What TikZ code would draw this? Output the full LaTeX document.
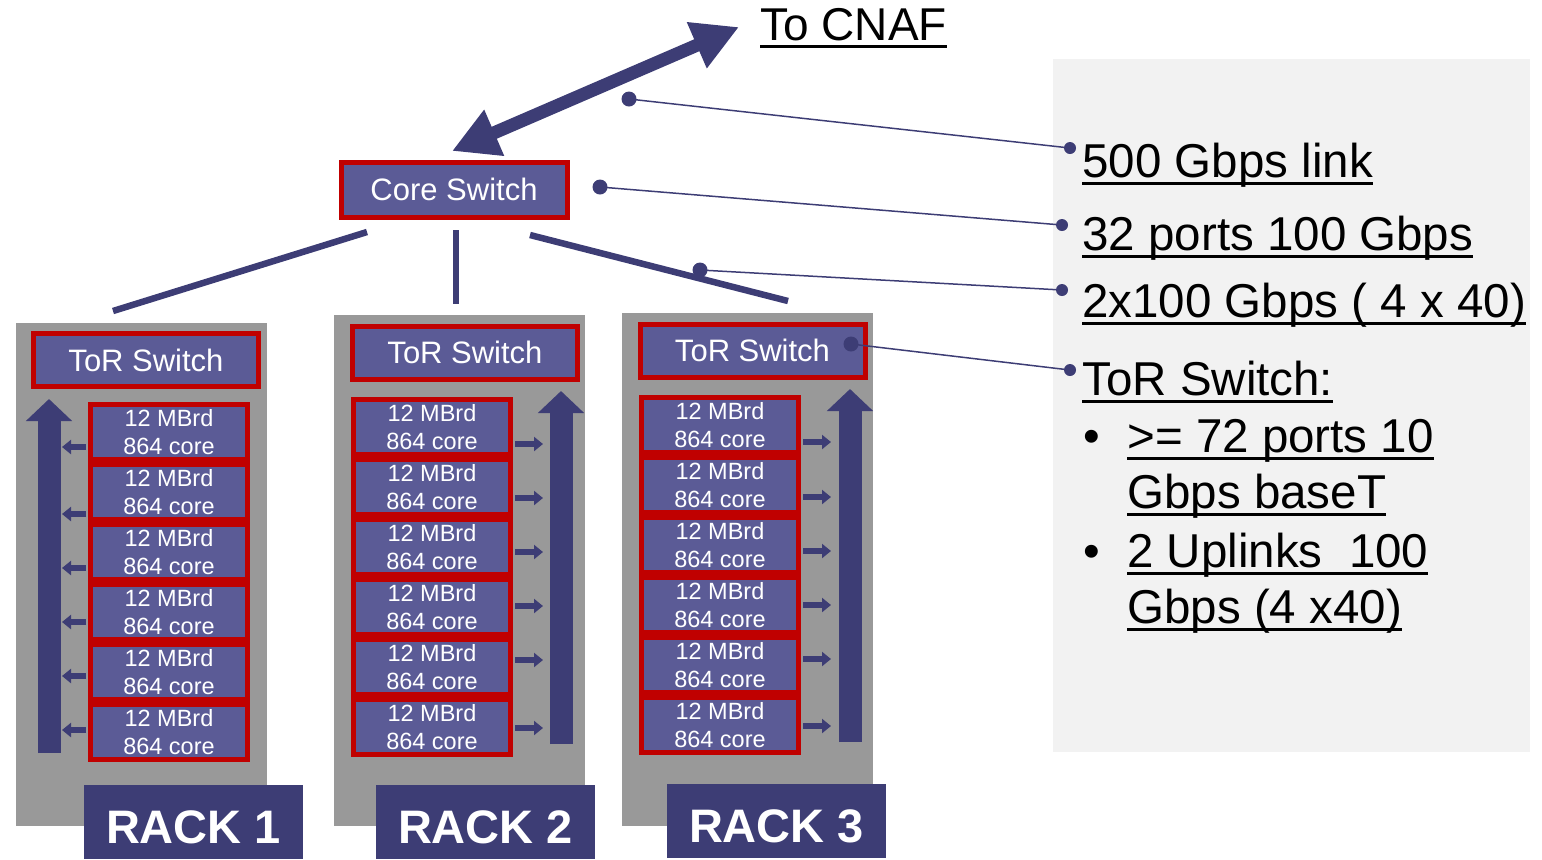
\documentclass[tikz,border=0pt]{standalone}
\usepackage{fontspec}
\setmainfont{Liberation Sans}
\usetikzlibrary{arrows.meta,calc}
\definecolor{boxblue}{RGB}{91,91,150}
\definecolor{darkblue}{RGB}{61,61,117}
\definecolor{boxred}{RGB}{192,0,0}
\definecolor{rackgray}{RGB}{153,153,153}
\definecolor{panelgray}{RGB}{242,242,242}
\newsavebox\ulbox
\newcommand\undl[1]{\sbox\ulbox{#1}\rlap{\rule[-3.75pt]{\wd\ulbox}{1.5pt}}\usebox\ulbox}
\begin{document}
\begin{tikzpicture}[x=0.5pt, y=-0.5pt,
  blade/.style={draw=boxred, line width=2.5pt, fill=boxblue, text=white, minimum width=78.5pt, minimum height=27.5pt, inner sep=0pt, align=center, font=\fontsize{11.75}{14.25}\selectfont},
  switch/.style={draw=boxred, line width=2.5pt, fill=boxblue, text=white, minimum width=112.5pt, minimum height=26.5pt, inner sep=0pt, font=\fontsize{15.5}{18}\selectfont},
  racklabel/.style={fill=darkblue, text=white, minimum width=109.5pt, minimum height=37pt, inner sep=0pt, text height=21.5pt, text depth=0pt, font=\fontsize{23.5}{28}\selectfont\bfseries},
  trunk/.style={darkblue, line width=3.25pt},
  uplink/.style={darkblue, line width=11.5pt, -{Triangle[length=11pt,width=22.5pt]}},
  port/.style={darkblue, line width=3pt, shorten <=1pt, -{Triangle[length=4.5pt,width=7pt]}},
  callout/.style={darkblue, line width=0.75pt},
  note/.style={anchor=base west, inner sep=0pt, font=\fontsize{23.75}{28}\selectfont}]
\useasboundingbox (0,0) rectangle (1542,859);

%side panel and racks
\fill[panelgray] (1053,59) rectangle (1530,752);
\fill[rackgray] (16,323) rectangle (267,826);
\fill[rackgray] (334,315) rectangle (585,826);
\fill[rackgray] (622,313) rectangle (873,826);

%switches
\node[switch, minimum width=113pt, minimum height=27.5pt] (core) at (454,189.5) {Core Switch};
\node[switch] (tor1) at (146,360) {ToR Switch};
\node[switch] (tor2) at (465,352.5) {ToR Switch};
\node[switch] (tor3) at (752.5,350.5) {ToR Switch};

%boards
\foreach \i in {1,...,6} {
  \node[blade] (b1-\i) at (169,372+60*\i) {12 MBrd\\864 core};
  \node[blade] (b2-\i) at (432,367+60*\i) {12 MBrd\\864 core};
  \node[blade] (b3-\i) at (720,365+60*\i) {12 MBrd\\864 core};
}

%small arrows to the uplink
\foreach \i/\y in {1/447,2/514,3/568,4/622,5/676,6/730}
  \draw[port] (b1-\i.west |- 0,\y) -- ++(-26,0);
\foreach \i/\y in {1/444,2/498,3/552,4/606,5/660,6/728}
  \draw[port] (b2-\i.east |- 0,\y) -- ++(30,0);
\foreach \i/\y in {1/442,2/497,3/551,4/605,5/659,6/726}
  \draw[port] (b3-\i.east |- 0,\y) -- ++(30,0);

%big arrows in the racks
\draw[uplink] (49,753) -- (49,399);
\draw[uplink] (561,744) -- (561,391);
\draw[uplink] (850,742) -- (850,389);

%core to ToR
\draw[trunk] ($(core.south west)+(28.5,12.5)$) -- ($(tor1.north)+(-33,-20)$);
\draw[trunk] ($(core.south)+(2,10.5)$) -- ($(tor2.north)+(-9,-19.5)$);
\draw[trunk] ($(core.south east)+(-39.5,15.5)$) -- ($(tor3.north)+(35.5,-20.5)$);

%link to CNAF
\coordinate (cnaf) at (739,27);
\draw[darkblue, line width=6.5pt, {Triangle[length=23pt,width=23.5pt]}-{Triangle[length=23pt,width=23.5pt]}] ($(core.north)+(-2,-8.5)$) -- (cnaf);
\node[note, font=\fontsize{23}{27}\selectfont] (tocnaf) at (760,40) {\undl{To CNAF}};

%callouts
\coordinate (p1) at (629,99);
\coordinate (p2) at ($(core.east)+(30.5,-2.5)$);
\coordinate (p3) at (700,270);
\coordinate (p4) at ($(tor3.east)+(-16.5,-6.5)$);
\coordinate (d1) at (1070,148);
\coordinate (d2) at (1062,225);
\coordinate (d3) at (1062,290);
\coordinate (d4) at (1070,370);
\foreach \a/\b in {p1/d1,p2/d2,p3/d3,p4/d4} {
  \draw[callout] (\a) -- (\b);
  \fill[darkblue] (\a) circle (3.75pt);
  \fill[darkblue] (\b) circle (3pt);
}

%notes
\node[note] (l500) at (1082,177) {\undl{500 Gbps link}};
\node[note] (l32) at (1082,250) {\undl{32 ports 100 Gbps}};
\node[note] (l2x) at (1082,317) {\undl{2x100 Gbps ( 4 x 40)}};
\node[note] (ltor) at (1082,395) {\undl{ToR Switch:}};
\node[note] (bul1) at (1083,452) {•};
\node[note] (li1a) at (1127,452) {\undl{>= 72 ports 10}};
\node[note] (li1b) at (1127,508) {\undl{Gbps baseT}};
\node[note] (bul2) at (1083,567) {•};
\node[note] (li2a) at (1127,567) {\undl{2 Uplinks\ \ 100}};
\node[note] (li2b) at (1127,623) {\undl{Gbps (4 x40)}};

%rack names
\node[racklabel] (lab1) at (193.5,821.5) {RACK 1};
\node[racklabel] (lab2) at (485.5,821.5) {RACK 2};
\node[racklabel] (lab3) at (776.5,821) {RACK 3};
\end{tikzpicture}
\end{document}
